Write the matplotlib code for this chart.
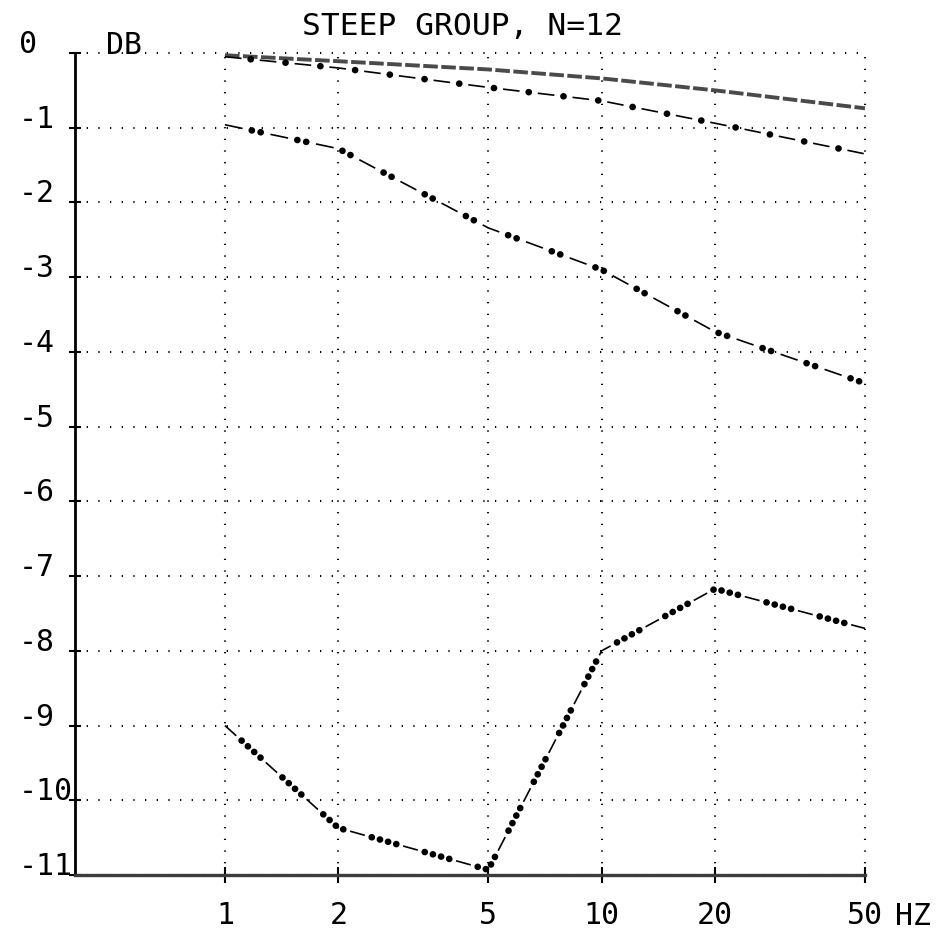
import matplotlib
matplotlib.use('Agg')
import matplotlib.pyplot as plt
from matplotlib.ticker import FixedLocator, FixedFormatter, NullLocator
from matplotlib.transforms import offset_copy

plt.rcParams['lines.scale_dashes'] = False
plt.rcParams['font.family'] = ['DejaVu Sans Mono', 'DejaVu Sans']

# ---- data ----
freq_hz = [1, 2, 5, 10, 20, 50]
freq_labels = ['1', '2', '5', '10', '20', '50']
db_ticks = [0, -1, -2, -3, -4, -5, -6, -7, -8, -9, -10, -11]
db_labels = ['0', '-1', '-2', '-3', '-4', '-5', '-6', '-7', '-8', '-9', '-10', '-11']
curve_a = [-0.03, -0.11, -0.22, -0.34, -0.50, -0.74]
curve_b = [-0.05, -0.20, -0.46, -0.64, -0.94, -1.35]
curve_c = [-0.96, -1.28, -2.34, -2.90, -3.73, -4.42]
curve_d = [-9.00, -10.37, -10.93, -8.00, -7.17, -7.70]
title = 'STEEP GROUP, N=12'

# ---- figure ----
W, H = 950, 933
fig = plt.figure(figsize=(W / 100, H / 100), dpi=100)
ax = fig.add_axes([75 / W, 1 - 875 / H, (865 - 75) / W, (875 - 53) / H])
ax.set_xscale('log')
ax.set_xlim(0.4, 50)
ax.set_ylim(-11, 0)

for s in ('top', 'right'):
    ax.spines[s].set_visible(False)
ax.spines['left'].set_linewidth(2.0)
ax.spines['left'].set_color('black')
ax.spines['bottom'].set_linewidth(2.4)
ax.spines['bottom'].set_color('#3c3c3c')

ax.xaxis.set_major_locator(FixedLocator(freq_hz))
ax.xaxis.set_major_formatter(FixedFormatter(freq_labels))
ax.xaxis.set_minor_locator(NullLocator())
ax.yaxis.set_major_locator(FixedLocator(db_ticks))
ax.yaxis.set_major_formatter(FixedFormatter(db_labels))

ax.tick_params(axis='x', direction='inout', length=11, width=1.5, pad=13.5,
               labelsize=21.5, colors='black')
ax.tick_params(axis='y', direction='inout', length=8.6, width=1.5, pad=36,
               labelsize=21.5, colors='black')
for lab in ax.get_yticklabels():
    lab.set_horizontalalignment('left')
    lab.set_verticalalignment('baseline')

grid_style = dict(color='black', linewidth=1.5, linestyle=(0, (0.9, 7.5)))
ax.grid(True, which='major', axis='both', **grid_style)
for gl in ax.get_xgridlines() + ax.get_ygridlines():
    gl.set_clip_on(False)
ax.set_axisbelow(True)

# ---- curves ----
# curve a: dense grey dashes
ax.plot(freq_hz, curve_a, color='#4a4a4a', lw=2.8, linestyle=(0, (10.5, 2.5)),
        dash_capstyle='butt', clip_on=False, zorder=3)

def dash_dots(x, y, period, dash, first_dot, dot_gap, ndots):
    ax.plot(x, y, color='black', lw=1.2, linestyle=(0, (dash, period - dash)),
            dash_capstyle='butt', clip_on=False, zorder=3)
    seq = []
    for i in range(ndots):
        seq += [0.1, dot_gap - 0.1]
    used = sum(seq[:-1])
    seq[-1] = period - used
    off = period - first_dot
    ax.plot(x, y, color='black', lw=4.8, linestyle=(off, tuple(seq)),
            dash_capstyle='round', solid_capstyle='round', clip_on=False, zorder=3)

dash_dots(freq_hz, curve_b, period=25.2, dash=12.0, first_dot=18.6, dot_gap=6.0, ndots=1)
dash_dots(freq_hz, curve_c, period=33.5, dash=13.0, first_dot=19.75, dot_gap=6.5, ndots=2)
dash_dots(freq_hz, curve_d, period=39.6, dash=11.0, first_dot=16.15, dot_gap=6.1, ndots=4)

# ---- texts ----
fig.text(462 / W, 1 - 35 / H, title, ha='center', va='baseline', fontsize=22.5)
ax.text(0, 1, 'DB', transform=offset_copy(ax.transAxes, fig, x=31, y=-1, units='dots'),
        ha='left', va='baseline', fontsize=21.5)
ax.text(1, 0, 'HZ', transform=offset_copy(ax.transAxes, fig, x=30, y=-27, units='dots'),
        ha='left', va='top', fontsize=21.5)

fig.savefig('out.png', dpi=100)
